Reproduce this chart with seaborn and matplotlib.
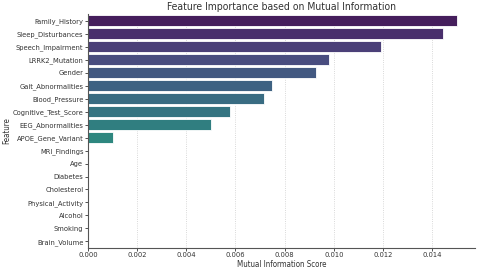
import pandas as pd
import matplotlib.pyplot as plt
import seaborn as sns

features = ['Family_History', 'Sleep_Disturbances', 'Speech_Impairment', 'LRRK2_Mutation',
            'Gender', 'Gait_Abnormalities', 'Blood_Pressure', 'Cognitive_Test_Score',
            'EEG_Abnormalities', 'APOE_Gene_Variant', 'MRI_Findings', 'Age', 'Diabetes',
            'Cholesterol', 'Physical_Activity', 'Alcohol', 'Smoking', 'Brain_Volume']
scores = [0.0150, 0.01445, 0.01193, 0.00979, 0.00927, 0.00748, 0.00717, 0.00579,
          0.00499, 0.00103, 0, 0, 0, 0, 0, 0, 0, 0]

df = pd.DataFrame({'Feature': features, 'Mutual Information Score': scores})

sns.set_style('whitegrid')
plt.rcParams['font.family'] = ['DejaVu Sans']
plt.rcParams['font.stretch'] = 'condensed'
plt.rcParams['text.color'] = '#333333'
plt.rcParams['axes.labelcolor'] = '#333333'
plt.rcParams['xtick.color'] = '#333333'
plt.rcParams['ytick.color'] = '#333333'

fig, ax = plt.subplots(figsize=(4.8, 2.71), dpi=100)
sns.barplot(x='Mutual Information Score', y='Feature', data=df, hue='Feature',
            palette='viridis', legend=False, ax=ax, edgecolor='white', linewidth=0.6,
            width=0.8)
ax.set_title('Feature Importance based on Mutual Information', fontsize=7.5, pad=3)
ax.set_xlabel('Mutual Information Score', fontsize=5.7, labelpad=1)
ax.set_ylabel('Feature', fontsize=5.7, labelpad=1)
ax.tick_params(axis='both', labelsize=5.4, length=2, width=0.6, pad=1.2)
ax.tick_params(axis='x', bottom=True, pad=1)
ax.tick_params(axis='y', left=True)
ax.set_xlim(0, 0.01574)
ax.set_xticks([0, 0.002, 0.004, 0.006, 0.008, 0.010, 0.012, 0.014])
ax.grid(axis='x', linestyle=':', linewidth=0.6, color='#cccccc')
ax.grid(axis='y', visible=False)
for s in ['top', 'right']:
    ax.spines[s].set_visible(False)
for s in ['left', 'bottom']:
    ax.spines[s].set_color('#555555')
    ax.spines[s].set_linewidth(0.8)
plt.subplots_adjust(left=0.183, right=0.99, top=0.948, bottom=0.085)
plt.savefig('out.png')
